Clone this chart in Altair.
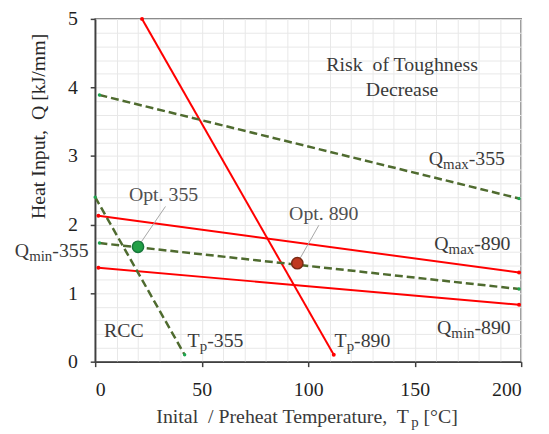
import altair as alt
import pandas as pd

# ---------------- data ----------------
tp890_x = [22, 112]
tp890_y = [5.0, 0.10]
tp355_x = [0, 42]
tp355_y = [2.40, 0.10]
qmax355_x = [2, 199]
qmax355_y = [3.89, 2.38]
qmax890_x = [1.5, 199]
qmax890_y = [2.13, 1.30]
qmin355_x = [2, 199]
qmin355_y = [1.73, 1.06]
qmin890_x = [1.5, 199]
qmin890_y = [1.37, 0.83]

opt_names = ["Opt. 355", "Opt. 890"]
opt_x = [20.1, 94.9]
opt_y = [1.676, 1.436]

x_ticks = list(range(0, 201, 10))
y_ticks = [round(i * 0.2, 1) for i in range(26)]

# ---------------- tables ----------------
def series_df(name, xs, ys):
    return pd.DataFrame({"x": xs, "y": ys, "series": name, "i": range(len(xs))})

red = pd.concat([series_df("Tp-890", tp890_x, tp890_y),
                 series_df("Qmax-890", qmax890_x, qmax890_y),
                 series_df("Qmin-890", qmin890_x, qmin890_y)])
green = pd.concat([series_df("Tp-355", tp355_x, tp355_y),
                   series_df("Qmax-355", qmax355_x, qmax355_y),
                   series_df("Qmin-355", qmin355_x, qmin355_y)])
opt = pd.DataFrame({"x": opt_x, "y": opt_y, "name": opt_names})
leaders = pd.DataFrame({"x": [33.0, 105.0], "y": [2.264, 1.99],
                        "x2": opt_x, "y2": opt_y})

# ---------------- text composition (subscripts) ----------------
W = {'Q': 722, 'T': 611, 'm': 778, 'a': 444, 'x': 500, 'i': 278, 'n': 500, 'p': 500,
     '-': 333, ' ': 250, '\u00a0': 250, '[': 333, ']': 333, '°': 400, 'C': 667, 'I': 333,
     't': 278, 'l': 278, '/': 278, 'P': 556, 'r': 333, 'e': 444, 'h': 500, 'u': 500, ',': 250}
PX_X = 430 / 200
PX_Y = 346 / 5


def tw(s, size):
    return sum(W.get(c, 500) for c in s) * size / 1000


def compose(parts, cx, by, main=20, sub=15, drop=4):
    rows = []
    total = sum(tw(t, sub if s else main) for t, s in parts)
    x = cx - total / 2 / PX_X
    for t, s in parts:
        size = sub if s else main
        lead = len(t) - len(t.lstrip(" "))
        xx = x + lead * 250 * size / 1000 / PX_X
        rows.append(dict(x=xx, y=by - (drop / PX_Y if s else 0), text=t.lstrip(" "), size=size))
        x += tw(t, size) / PX_X
    return rows


left_rows = []
left_rows += compose([("Q", False), ("max", True), ("-355", False)], 174.5, 2.864)
left_rows += compose([("Q", False), ("max", True), ("-890", False)], 177.1, 1.629)
left_rows += compose([("Q", False), ("min", True), ("-890", False)], 177.8, 0.400)
left_rows += compose([("Q", False), ("min", True), ("-355", False)], -20.4, 1.532)
left_rows += compose([("T", False), ("p", True), ("-355", False)], 56.5, 0.209)
left_rows += compose([("T", False), ("p", True), ("-890", False)], 125.5, 0.209)
left_rows += compose([("Inital\u00a0 / Preheat Temperature,\u00a0 T", False), ("p", True),
                      (" [°C]", False)], 99.5, -0.900)
left_text = pd.DataFrame(left_rows)

center_text = pd.DataFrame({
    "x": [144.1, 144.1, 13.5],
    "y": [4.24, 3.88, 0.367],
    "text": ["Risk\u00a0 of Toughness", "Decrease", "RCC"],
})
opt_text = pd.DataFrame({"x": [32.1, 107.3], "y": [2.35, 2.06], "text": opt_names})

# ---------------- encodings ----------------
FONT = "Liberation Serif"
xs = alt.Scale(domain=[0, 200], nice=False, zero=False)
ys = alt.Scale(domain=[0, 5], nice=False, zero=False)

xaxis = alt.Axis(values=x_ticks, title=None,
                 labelExpr="datum.value % 50 === 0 ? datum.label : ''",
                 tickOpacity={"condition": {"test": "datum.value % 50 === 0", "value": 1}, "value": 0},
                 labelOverlap=False, labelFont=FONT, labelFontSize=20, labelColor="#1f1f1f",
                 labelPadding=13, tickSize=5, tickWidth=1.5, tickColor="#404040",
                 domainColor="#404040", domainWidth=1.5,
                 grid=True, gridColor="#e8e8e8", gridWidth=1)
yaxis = alt.Axis(values=y_ticks, title="Heat Input,\u00a0 Q [kJ/mm]",
                 labelExpr="abs(datum.value - round(datum.value)) < 0.001 ? format(datum.value, '.0f') : ''",
                 tickOpacity={"condition": {"test": "abs(datum.value - round(datum.value)) < 0.001", "value": 1}, "value": 0},
                 labelOverlap=False, labelFont=FONT, labelFontSize=20, labelColor="#1f1f1f",
                 labelPadding=13, tickSize=5, tickWidth=1.5, tickColor="#404040",
                 domainColor="#404040", domainWidth=1.5,
                 grid=True, gridColor="#e8e8e8", gridWidth=1,
                 titleFont=FONT, titleFontSize=20, titleFontWeight="normal", titleColor="#262626",
                 titleX=-57, titleY=108, titleAlign="center", titleBaseline="middle", titleAngle=270)

X = alt.X("x:Q", scale=xs, axis=xaxis)
Y = alt.Y("y:Q", scale=ys, axis=yaxis)

red_lines = alt.Chart(red).mark_line(color="#ff0000", strokeWidth=2, clip=True).encode(
    x=X, y=Y, detail="series:N", order="i:Q")
green_lines = alt.Chart(green).mark_line(color="#4f6b2f", strokeWidth=2.5, strokeDash=[8, 4], clip=True).encode(
    x=X, y=Y, detail="series:N", order="i:Q")
red_ends = alt.Chart(red).mark_circle(color="#ff0000", size=16, opacity=1).encode(x=X, y=Y)
green_ends = alt.Chart(green).mark_circle(color="#1fa650", size=12, opacity=1).encode(x=X, y=Y)

leader_rules = alt.Chart(leaders).mark_rule(color="#a6a6a6", strokeWidth=1).encode(
    x=X, y=Y, x2="x2:Q", y2="y2:Q")

opt_pts = alt.Chart(opt).mark_point(shape="circle", filled=True, size=130, strokeWidth=1.5, opacity=1).encode(
    x=X, y=Y,
    fill=alt.Fill("name:N", scale=alt.Scale(domain=opt_names, range=["#22a046", "#c0391f"]), legend=None),
    stroke=alt.Stroke("name:N", scale=alt.Scale(domain=opt_names, range=["#17763a", "#7a2a14"]), legend=None))

lt = alt.Chart(left_text).mark_text(align="left", baseline="alphabetic", font=FONT, color="#3a3a3a").encode(
    x=X, y=Y, text="text:N", size=alt.Size("size:Q", scale=None, legend=None))
ct = alt.Chart(center_text).mark_text(align="center", baseline="alphabetic", font=FONT, fontSize=20,
                                      color="#3a3a3a").encode(x=X, y=Y, text="text:N")
ot = alt.Chart(opt_text).mark_text(align="center", baseline="alphabetic", font=FONT, fontSize=20,
                                   color="#505050").encode(x=X, y=Y, text="text:N")

chart = alt.layer(red_lines, green_lines, red_ends, green_ends, leader_rules, opt_pts, lt, ct, ot).properties(
    width=430, height=346,
    autosize=alt.AutoSizeParams(type="none"),
    padding={"left": 88, "top": 9, "right": 20, "bottom": 70},
).configure(font=FONT).configure_view(stroke="#555555", strokeWidth=1.5)

chart.save("out.html", embed_options={"renderer": "svg", "actions": False})
